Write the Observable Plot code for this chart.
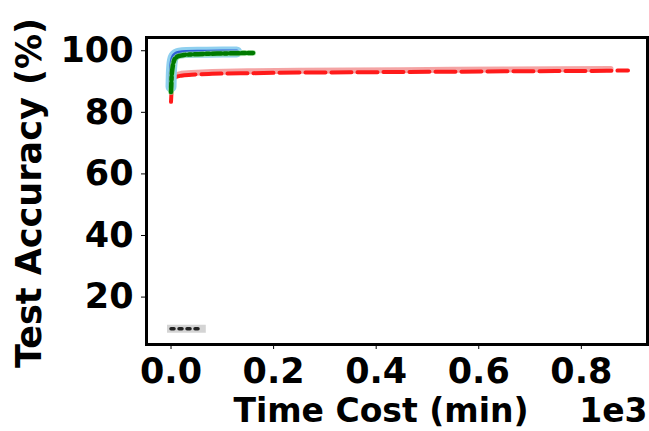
<!DOCTYPE html>
<html><head><meta charset="utf-8">
<script src="https://cdn.jsdelivr.net/npm/d3@7"></script>
<script src="https://cdn.jsdelivr.net/npm/@observablehq/plot@0.6"></script>
<style>body{margin:0;background:#fff}</style>
</head><body><div id="chart"></div>
<script>
// Tick values
const xTicks = [0, 200, 400, 600, 800];
const yTicks = [20, 40, 60, 80, 100];
const xLabel = "Time Cost (min)";
const xOffsetLabel = "1e3";
const yLabel = "Test Accuracy (%)";

// Series (time in minutes, accuracy in %)
const blueT   = [0, 0.5, 1.5, 3, 6, 10, 16, 30, 60, 100, 128];
const blueAcc = [88.3, 92, 95, 97, 98.3, 98.9, 99.2, 99.4, 99.5, 99.6, 99.6];

const greenT   = [0, 1, 3, 6, 10, 16, 25, 40, 70, 100, 130, 160];
const greenAcc = [86.6, 91, 94.5, 96.8, 97.8, 98.3, 98.6, 98.8, 99.0, 99.1, 99.2, 99.3];

const redT   = [0, 2, 5, 10, 20, 40, 80, 150, 250, 350, 450, 550, 650, 750, 850, 891];
const redAcc = [83.4, 89.0, 90.8, 91.5, 91.9, 92.2, 92.5, 92.7, 92.9, 93.0, 93.1, 93.2, 93.3, 93.4, 93.5, 93.6];

const redBandT   = [0, 5, 10, 20, 40, 80, 150, 250, 350, 450, 550, 650, 750, 857];
const redBandAcc = [90.5, 91.6, 92.1, 92.5, 92.8, 93.1, 93.3, 93.5, 93.6, 93.7, 93.8, 93.9, 94.0, 94.1];

const greyT   = [0, 20, 40, 60];
const greyAcc = [9.7, 9.7, 9.7, 9.7];

const rows = (T, A) => T.map((t, i) => ({t, a: A[i]}));
const blue = rows(blueT, blueAcc);
const green = rows(greenT, greenAcc);
const red = rows(redT, redAcc);
const redBand = rows(redBandT, redBandAcc);
const grey = rows(greyT, greyAcc);

const TICK_FS = 35;
const chart = Plot.plot({
  width: 649, height: 431,
  marginLeft: 146, marginRight: 2, marginTop: 37, marginBottom: 87,
  x: {domain: [-47.8, 929]},
  y: {domain: [4.6, 104.3]},
  style: {fontFamily: "DejaVu Sans", fontWeight: "bold", fontSize: TICK_FS + "px", color: "black", background: "white"},
  marks: [
    // grey series
    Plot.line(grey, {x: "t", y: "a", stroke: "#d4d4d4", strokeWidth: 8, strokeLinecap: "square"}),
    Plot.line(grey, {x: "t", y: "a", stroke: "#222", strokeWidth: 3.5, strokeDasharray: "3,5"}),
    // red band + dashed line
    Plot.line(redBand, {x: "t", y: "a", stroke: "#f39a9a", strokeWidth: 6, strokeOpacity: 0.9}),
    Plot.line(red, {x: "t", y: "a", stroke: "#ff1a1a", strokeWidth: 4, strokeDasharray: "20,6", curve: "monotone-x"}),
    // blue halo + line
    Plot.line(blue, {x: "t", y: "a", stroke: "#8fd0ef", strokeWidth: 11, curve: "monotone-x"}),
    Plot.line(blue, {x: "t", y: "a", stroke: "#2f5fd6", strokeWidth: 5, curve: "monotone-x"}),
    // green halo + dash-dot
    Plot.line(green, {x: "t", y: "a", stroke: "#9ee39e", strokeWidth: 6, strokeOpacity: 0.7, curve: "monotone-x"}),
    Plot.line(green, {x: "t", y: "a", stroke: "#007a00", strokeWidth: 4.5, strokeDasharray: "9,3,3,3", curve: "monotone-x"}),
    Plot.frame({stroke: "black", strokeWidth: 3}),
    Plot.axisX({ticks: xTicks, tickFormat: d => (d / 1000).toFixed(1), tickSize: 5, tickPadding: 9, label: null, fontSize: TICK_FS}),
    Plot.axisY({ticks: yTicks, tickSize: 5, tickPadding: 8, label: null, fontSize: TICK_FS}),
    Plot.text([xLabel], {text: d => d, frameAnchor: "bottom", dx: -16, dy: 67, lineAnchor: "middle", fontSize: 33}),
    Plot.text([xOffsetLabel], {text: d => d, frameAnchor: "bottom-right", textAnchor: "end", dx: 0, dy: 67, lineAnchor: "middle", fontSize: 33}),
    Plot.text([yLabel], {text: d => d, frameAnchor: "left", rotate: -90, dx: -117, dy: 2, lineAnchor: "middle", textAnchor: "middle", fontSize: 35})
  ]
});
document.getElementById("chart").appendChild(chart);
</script>
</body></html>
